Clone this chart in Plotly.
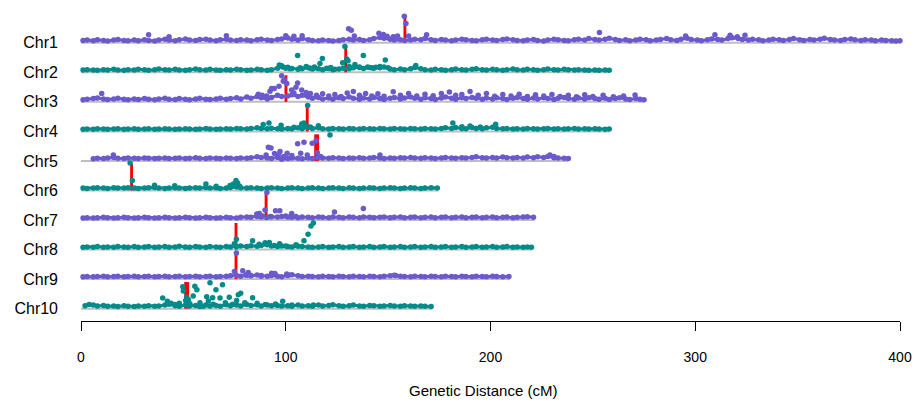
import plotly.graph_objects as go

# ---------------- data ----------------
chrom_names = ["Chr1", "Chr2", "Chr3", "Chr4", "Chr5", "Chr6", "Chr7", "Chr8", "Chr9", "Chr10"]
chrom_lengths = [400, 258, 275, 258, 238, 174.5, 221.5, 220, 209.5, 171.5]
qtl_left = [157.5, 128.6, 99.4, 109.8, 113.9, 24.0, 89.7, 75.0, 75.0, 50.4]
qtl_right = [158.9, 130.0, 100.8, 111.2, 116.3, 25.4, 91.1, 76.4, 76.4, 52.8]
qtl_height = 90  # hundredths of a row

# markers: (position cM, height in hundredths of a row above the chromosome line)
chr1_bg = [(1,8),(3,9),(6,7),(8,10),(11,8),(13,6),(16,9),(18,11),(21,8),(23,7),(26,9),(28,7),(31,10),(33,8),(36,6),(38,9),(41,12),(43,9),(46,7),(48,10),(51,13),(53,9),(56,8),(58,11),(61,12),(63,9),(66,7),(68,10),(71,12),(73,9),(76,8),(78,10),(81,9),(83,7),(86,10),(88,12),(91,9),(93,8),(96,11),(98,13),(101,16),(103,12),(106,9),(108,14),(111,10),(113,8),(116,7),(118,9),(121,8),(123,6),(126,8),(128,10),(131,12),(133,9),(136,11),(138,8),(141,10),(143,14),(146,18),(148,15),(151,12),(153,9),(156,10),(158,8),(161,9),(163,12),(166,10),(168,14),(171,10),(173,8),(176,11),(178,9),(181,7),(183,9),(186,12),(188,10),(191,8),(193,7),(196,10),(198,12),(201,9),(203,8),(206,11),(208,13),(211,10),(213,8),(216,7),(218,9),(221,11),(223,8),(226,6),(228,9),(231,12),(233,10),(236,8),(238,7),(241,10),(243,12),(246,9),(248,14),(251,11),(253,9),(256,12),(258,15),(261,11),(263,8),(266,10),(268,7),(271,9),(273,12),(276,10),(278,7),(281,9),(283,11),(286,14),(288,10),(291,8),(293,12),(296,15),(298,11),(301,9),(303,7),(306,10),(308,13),(311,11),(313,9),(316,14),(318,17),(321,14),(323,11),(326,9),(328,12),(331,10),(333,7),(336,9),(338,12),(341,10),(343,8),(346,11),(348,14),(351,10),(353,8),(356,11),(358,9),(361,12),(363,15),(366,11),(368,9),(371,8),(373,11),(376,13),(378,10),(381,8),(383,10),(386,9),(388,7),(391,9),(393,8),(396,7),(398,6),(400,7)]
chr1_pk = [(33,27),(43,20),(71,24),(100,24),(104,22),(108,24),(130.7,47),(132,42),(133.5,23),(145.5,32),(147.7,28),(149.5,22),(152.5,20),(154.6,23),(157.9,90),(158.7,65),(160,23),(168.8,27),(253.2,35),(295.3,23),(309.6,27),(317,25),(320.5,20),(324.3,25)]

chr2_bg = [(1,8),(3,9),(6,8),(8,7),(11,9),(13,8),(16,10),(18,8),(21,7),(23,9),(26,8),(28,10),(31,9),(33,7),(36,9),(38,11),(41,9),(43,8),(46,10),(48,8),(51,7),(53,9),(56,11),(58,9),(61,8),(63,10),(66,8),(68,7),(71,9),(73,8),(76,10),(78,9),(81,7),(83,8),(86,10),(88,9),(91,7),(93,9),(96,14),(98,22),(101,17),(103,13),(106,10),(108,12),(111,15),(113,11),(116,12),(118,9),(121,13),(123,9),(126,11),(128,14),(131,12),(133,15),(136,18),(138,13),(141,16),(143,14),(146,15),(148,18),(151,11),(153,9),(156,11),(158,9),(161,12),(163,16),(166,12),(168,9),(171,8),(173,10),(176,9),(178,7),(181,9),(183,11),(186,9),(188,8),(191,10),(193,12),(196,9),(198,8),(201,10),(203,9),(206,7),(208,9),(211,11),(213,9),(216,8),(218,10),(221,9),(223,7),(226,9),(228,11),(231,9),(233,8),(236,10),(238,9),(241,8),(243,9),(246,8),(248,7),(251,8),(253,7),(256,8),(258,7)]
chr2_pk = [(96.9,25),(98.5,18),(100,14),(102,12),(105.8,57),(107,15),(110,20),(112,14),(114,18),(116.7,30),(117.9,47),(120,14),(122,16),(124,10),(127.8,32),(128.9,87),(129.8,45),(130.4,39),(131,20),(133.8,26),(136,16),(137.9,57),(140,18),(142,15),(144,17),(146,20),(148.6,42),(150,15),(163.5,23)]

chr3_bg = [(1,7),(3,9),(6,11),(8,13),(11,10),(13,8),(16,10),(18,12),(21,9),(23,7),(26,10),(28,8),(31,11),(33,9),(36,7),(38,10),(41,12),(43,9),(46,8),(48,11),(51,9),(53,7),(56,10),(58,12),(61,9),(63,8),(66,10),(68,12),(71,9),(73,11),(76,14),(78,10),(81,16),(83,12),(86,18),(88,14),(91,10),(93,15),(96,22),(98,18),(101,20),(103,24),(106,18),(108,22),(111,16),(113,12),(116,15),(118,10),(121,13),(123,9),(126,14),(128,11),(131,16),(133,12),(136,9),(138,13),(141,10),(143,15),(146,11),(148,8),(151,12),(153,15),(156,10),(158,13),(161,16),(163,12),(166,9),(168,14),(171,11),(173,8),(176,13),(178,16),(181,12),(183,9),(186,14),(188,11),(191,15),(193,12),(196,9),(198,13),(201,10),(203,14),(206,11),(208,8),(211,12),(213,15),(216,11),(218,9),(221,13),(223,10),(226,14),(228,11),(231,8),(233,12),(236,15),(238,11),(241,9),(243,13),(246,10),(248,14),(251,11),(253,9),(256,12),(258,8),(261,11),(263,14),(266,10),(268,8),(271,11),(273,9),(275,7)]
chr3_pk = [(10.1,28),(86.6,26),(88.5,22),(90.7,20),(92.3,36),(93.1,45),(94.4,45),(96.7,53),(98,88),(98.8,70),(99.3,74),(100.5,62),(102.9,40),(104,30),(105,49),(105.8,64),(107.8,40),(110,32),(112,28),(115,22),(118,27),(121,20),(124,25),(127,18),(130,30),(133,35),(136,22),(139,28),(142,20),(145,27),(148,19),(152.5,34),(156,22),(160,28),(164,20),(168,26),(172,21),(176,28),(179.9,33),(183,22),(186,25),(190,35),(194,22),(198,28),(202,19),(206,25),(210,20),(214,26),(218,18),(222,24),(226,20),(230,25),(234,18),(238,22),(242,17),(246,24),(250,18),(255,22),(260,17),(265,20),(270.6,23)]

chr4_bg = [(1,7),(3,8),(6,7),(8,9),(11,8),(13,7),(16,8),(18,9),(21,7),(23,8),(26,9),(28,7),(31,8),(33,9),(36,7),(38,8),(41,9),(43,8),(46,7),(48,8),(51,9),(53,8),(56,7),(58,8),(61,10),(63,8),(66,7),(68,8),(71,9),(73,8),(76,10),(78,9),(81,8),(83,10),(86,12),(88,10),(91,9),(93,11),(96,9),(98,8),(101,10),(103,9),(106,12),(108,9),(111,14),(113,10),(116,12),(118,9),(121,8),(123,10),(126,9),(128,8),(131,10),(133,9),(136,8),(138,10),(141,9),(143,8),(146,10),(148,9),(151,8),(153,10),(156,9),(158,8),(161,10),(163,9),(166,8),(168,10),(171,9),(173,8),(176,10),(178,12),(181,10),(183,13),(186,10),(188,9),(191,13),(193,10),(196,9),(198,12),(201,14),(203,10),(206,9),(208,10),(211,8),(213,9),(216,8),(218,10),(221,9),(223,8),(226,9),(228,10),(231,8),(233,9),(236,8),(238,9),(241,10),(243,8),(246,9),(248,8),(251,9),(253,8),(256,7),(258,8)]
chr4_pk = [(89,23),(91.8,28),(97.7,21),(104,14),(107.8,25),(108.9,28),(109.4,17),(110.7,88),(112,15),(115.9,19),(121.6,-12),(181.6,28),(186,16),(190,18),(195,15),(202.5,24)]

chr5_bg = [(6,7),(8,9),(11,8),(13,10),(16,12),(18,9),(21,8),(23,10),(26,9),(28,8),(31,10),(33,9),(36,8),(38,9),(41,10),(43,8),(46,9),(48,10),(51,8),(53,9),(56,11),(58,9),(61,8),(63,10),(66,9),(68,8),(71,10),(73,9),(76,8),(78,10),(81,9),(83,11),(86,14),(88,12),(91,10),(93,8),(96,12),(98,6),(101,8),(103,10),(106,9),(108,7),(111,10),(113,8),(116,12),(118,10),(121,9),(123,11),(126,10),(128,8),(131,10),(133,9),(136,11),(138,9),(141,10),(143,12),(146,10),(148,8),(151,10),(153,9),(156,11),(158,10),(161,12),(163,10),(166,9),(168,11),(171,10),(173,8),(176,10),(178,12),(181,10),(183,9),(186,11),(188,10),(191,12),(193,14),(196,11),(198,10),(201,12),(203,10),(206,13),(208,11),(211,10),(213,12),(216,10),(218,13),(221,11),(223,14),(226,12),(228,15),(231,11),(233,10),(236,9),(238,8)]
chr5_pk = [(15.8,20),(90.4,20),(91.5,46),(92.8,44),(94.5,25),(96.4,20),(97.2,32),(99,15),(100.7,26),(103,18),(105.8,58),(107.3,26),(108.9,63),(110.5,20),(112.9,60),(114.8,68),(115.4,28),(117,15),(146,20),(229,20),(231,15)]

chr6_bg = [(1,8),(3,7),(6,8),(8,9),(11,8),(13,7),(16,9),(18,8),(21,8),(23,9),(26,8),(28,7),(31,8),(33,9),(36,10),(38,8),(41,7),(43,8),(46,9),(48,8),(51,7),(53,8),(56,9),(58,8),(61,10),(63,8),(66,9),(68,7),(71,8),(73,10),(76,12),(78,9),(81,8),(83,9),(86,8),(88,7),(91,8),(93,9),(96,8),(98,7),(101,8),(103,9),(106,8),(108,7),(111,8),(113,9),(116,8),(118,7),(121,8),(123,9),(126,8),(128,7),(131,9),(133,8),(136,7),(138,8),(141,9),(143,8),(146,7),(148,8),(151,9),(153,8),(156,7),(158,8),(161,9),(163,8),(166,7),(168,8),(171,9),(174,8)]
chr6_pk = [(24,93),(25.1,34),(35.9,18),(45.8,16),(61,22),(66,14),(72.8,17),(74.4,22),(75.7,34),(76.5,25),(77.5,14)]

chr7_bg = [(1,7),(3,8),(6,7),(8,8),(11,9),(13,8),(16,7),(18,8),(21,9),(23,8),(26,7),(28,8),(31,9),(33,8),(36,7),(38,8),(41,9),(43,8),(46,7),(48,8),(51,9),(53,8),(56,7),(58,8),(61,9),(63,8),(66,7),(68,8),(71,9),(73,8),(76,7),(78,9),(81,10),(83,9),(86,12),(88,10),(91,9),(93,11),(96,10),(98,12),(101,10),(103,9),(106,8),(108,10),(111,9),(113,8),(116,10),(118,9),(121,8),(123,10),(126,9),(128,8),(131,10),(133,9),(136,8),(138,10),(141,9),(143,8),(146,9),(148,10),(151,8),(153,9),(156,10),(158,8),(161,9),(163,10),(166,8),(168,9),(171,10),(173,8),(176,9),(178,10),(181,8),(183,9),(186,10),(188,8),(191,9),(193,10),(196,8),(198,9),(201,10),(203,8),(206,9),(208,10),(211,8),(213,9),(216,10),(218,11),(221,9)]
chr7_pk = [(85.8,20),(87.1,22),(88.7,14),(89.9,34),(90.8,93),(92.5,12),(95,31),(97.1,31),(100,14),(102.9,22),(105,12),(123.8,27),(137.9,39)]

chr8_bg = [(1,8),(3,9),(6,8),(8,10),(11,8),(13,9),(16,8),(18,10),(21,9),(23,8),(26,10),(28,8),(31,9),(33,10),(36,8),(38,9),(41,10),(43,8),(46,9),(48,11),(51,9),(53,8),(56,10),(58,9),(61,8),(63,10),(66,9),(68,8),(71,10),(73,9),(76,10),(78,12),(81,10),(83,13),(86,11),(88,14),(91,16),(93,12),(96,10),(98,12),(101,10),(103,9),(106,11),(108,10),(111,9),(113,8),(116,9),(118,10),(121,8),(123,9),(126,10),(128,8),(131,9),(133,10),(136,8),(138,9),(141,10),(143,8),(146,9),(148,10),(151,8),(153,9),(156,10),(158,8),(161,9),(163,10),(166,8),(168,9),(171,10),(173,8),(176,9),(178,10),(181,8),(183,9),(186,10),(188,8),(191,9),(193,10),(196,8),(198,9),(201,10),(203,8),(206,9),(208,10),(211,8),(213,9),(216,8),(218,9),(220,8)]
chr8_pk = [(74.9,20),(75.9,35),(83.8,30),(87,18),(89.9,23),(92,24),(94.5,14),(97,20),(100,12),(105,16),(108.9,30),(110.9,52),(112.3,80),(113.5,90)]

chr9_bg = [(1,8),(3,9),(6,8),(8,9),(11,10),(13,8),(16,9),(18,10),(21,8),(23,9),(26,10),(28,8),(31,9),(33,10),(36,8),(38,9),(41,10),(43,8),(46,9),(48,10),(51,8),(53,9),(56,10),(58,8),(61,9),(63,10),(66,8),(68,9),(71,10),(73,11),(76,12),(78,10),(81,13),(83,11),(86,14),(88,12),(91,10),(93,12),(96,10),(98,8),(101,12),(103,15),(106,11),(108,9),(111,10),(113,9),(116,8),(118,10),(121,9),(123,8),(126,10),(128,9),(131,8),(133,10),(136,9),(138,8),(141,10),(143,9),(146,8),(148,10),(151,11),(153,13),(156,10),(158,9),(161,8),(163,10),(166,9),(168,8),(171,10),(173,9),(176,8),(178,10),(181,9),(183,8),(186,10),(188,9),(191,8),(193,10),(196,9),(198,8),(201,10),(203,9),(206,8),(209,9)]
chr9_pk = [(74.9,26),(75.9,88),(79,28),(80.5,14),(81.7,22),(83,12),(88,10),(93.1,20),(94.7,19),(100.5,17),(101.4,14),(153.7,12)]

chr10_bg = [(2,10),(4,14),(6,12),(8,9),(11,11),(13,8),(16,9),(18,7),(21,10),(23,8),(26,7),(28,9),(31,8),(33,10),(36,8),(38,9),(41,12),(43,15),(46,10),(48,8),(51,12),(53,9),(56,11),(58,7),(61,12),(63,9),(66,11),(68,8),(71,13),(73,10),(76,12),(78,9),(81,14),(83,11),(86,13),(88,9),(91,12),(93,10),(96,11),(98,9),(101,10),(103,8),(106,12),(108,9),(111,10),(113,8),(116,12),(118,9),(121,11),(123,13),(126,10),(128,8),(131,10),(133,12),(136,9),(138,8),(141,11),(143,10),(146,8),(148,9),(151,11),(153,9),(156,8),(158,10),(161,9),(163,8),(166,9),(168,8),(171,7)]
chr10_pk = [(39.9,36),(42.2,25),(44,18),(46,14),(48,18),(49.7,74),(50,60),(51.1,28),(51.6,39),(52.4,30),(53.2,17),(54.8,43),(55.6,76),(56.6,64),(58.1,20),(59.7,8),(61.4,40),(62.2,26),(63,88),(64.3,37),(64.6,15),(65.9,64),(67.9,36),(69.1,81),(70.5,20),(72.4,39),(74,15),(76,28),(76.8,47),(78,52),(80,20),(83.8,37),(86,18),(90,14),(95,16),(98.5,25),(103,12),(113.5,12)]

backgrounds = [chr1_bg, chr2_bg, chr3_bg, chr4_bg, chr5_bg, chr6_bg, chr7_bg, chr8_bg, chr9_bg, chr10_bg]
peaks = [chr1_pk, chr2_pk, chr3_pk, chr4_pk, chr5_pk, chr6_pk, chr7_pk, chr8_pk, chr9_pk, chr10_pk]

# ---------------- styles ----------------
PURPLE = "#6A5ACD"
TEAL = "#008B8B"
GRAY = "#BEBEBE"
FONT = "Liberation Sans, Arial, sans-serif"

n = len(chrom_names)
base = [n - i for i in range(n)]  # Chr1 at top

fig = go.Figure()
# chromosome lines
for i in range(n):
    y0 = base[i]
    fig.add_trace(go.Scatter(x=[0, chrom_lengths[i]], y=[y0, y0], mode="lines",
                             line=dict(color=GRAY, width=2), hoverinfo="skip",
                             showlegend=False, cliponaxis=False))
# QTL bars
for i in range(n):
    y0 = base[i]
    y1 = y0 + qtl_height / 100.0
    fig.add_trace(go.Scatter(x=[qtl_left[i], qtl_right[i], qtl_right[i], qtl_left[i], qtl_left[i]],
                             y=[y0, y0, y1, y1, y0],
                             mode="lines", fill="toself", fillcolor="#FF0000",
                             line=dict(width=0, color="#FF0000"), hoverinfo="skip",
                             showlegend=False))
# markers: dense background chain + elevated markers
for i in range(n):
    y0 = base[i]
    col = PURPLE if i % 2 == 0 else TEAL
    bx = [m[0] for m in backgrounds[i]]
    by = [y0 + m[1] / 100.0 for m in backgrounds[i]]
    fig.add_trace(go.Scatter(x=bx, y=by, mode="lines+markers",
                             line=dict(color=col, width=3),
                             marker=dict(color=col, size=5.5, line=dict(width=0)),
                             showlegend=False, cliponaxis=False, name=chrom_names[i]))
    px = [m[0] for m in peaks[i]]
    py = [y0 + m[1] / 100.0 for m in peaks[i]]
    fig.add_trace(go.Scatter(x=px, y=py, mode="markers",
                             marker=dict(color=col, size=5.5, line=dict(width=0)),
                             showlegend=False, cliponaxis=False, name=chrom_names[i]))

fig.update_layout(
    width=917, height=402,
    margin=dict(l=81, r=17, t=5, b=81, autoexpand=False),
    paper_bgcolor="white", plot_bgcolor="white",
    font=dict(family=FONT, color="black"),
    xaxis=dict(range=[0, 400], tickvals=[0, 100, 200, 300, 400], showgrid=False,
               zeroline=False, showline=True, linecolor="black", linewidth=1,
               ticks="outside", ticklen=9, tickwidth=1, tickcolor="black",
               tickfont=dict(size=14, family=FONT), ticklabelstandoff=14),
    yaxis=dict(range=[0.582, 11.278], tickvals=base, ticktext=chrom_names,
               showgrid=False, zeroline=False, showline=False, ticks="",
               tickfont=dict(size=16, family=FONT), ticklabelstandoff=22),
    annotations=[dict(text="Genetic Distance (cM)", xref="paper", yref="paper",
                      x=(483 - 81) / 819, y=-(390 - 321) / 316, xanchor="center",
                      yanchor="middle", showarrow=False,
                      font=dict(size=15, family=FONT, color="black"))],
)

fig.write_html("out.html", config={"displayModeBar": False},
               post_script="document.body.style.margin='0px';document.body.style.overflow='hidden';")
